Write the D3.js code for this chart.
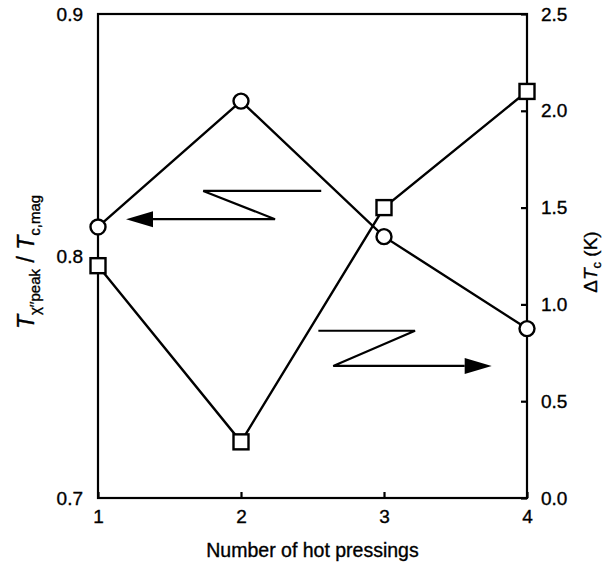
<!DOCTYPE html>
<html>
<head>
<meta charset="utf-8">
<script src="https://cdn.jsdelivr.net/npm/d3@7"></script>
<style>
  body { margin: 0; background: #fff; }
  text { font-family: "Liberation Sans", Arial, Helvetica, sans-serif; fill: #000; stroke: #000; stroke-width: 0.35px; }
</style>
</head>
<body>
<div id="chart"></div>
<script>
// data
const pressings = [1, 2, 3, 4];
const tRatio = [0.812, 0.864, 0.808, 0.770];   // circles, left axis
const deltaTc = [1.20, 0.29, 1.50, 2.10];      // squares, right axis
const xTicks = [1, 2, 3, 4];
const leftTicks = [0.7, 0.8, 0.9];
const rightTicks = [0.0, 0.5, 1.0, 1.5, 2.0, 2.5];

// z-shaped arrows (x in pressings, y in axis units of the series they point to)
const arrowLeft = [[2.561, 0.8269], [1.736, 0.8269], [2.238, 0.8152], [1.196, 0.8152]];
const arrowRight = [[2.541, 0.864], [3.217, 0.864], [2.645, 0.682], [3.753, 0.682]];

const W = 610, H = 568;
const frame = {left: 98, right: 527, top: 14, bottom: 498};

const svg = d3.select('#chart').append('svg')
  .attr('width', W).attr('height', H);

const x = d3.scaleLinear().domain([1, 4]).range([frame.left, frame.right]);
const yL = d3.scaleLinear().domain([0.7, 0.9]).range([frame.bottom, frame.top]);
const yR = d3.scaleLinear().domain([0, 2.5]).range([frame.bottom, frame.top]);

// axes
const gx = svg.append('g')
  .attr('transform', `translate(0,${frame.bottom})`)
  .call(d3.axisBottom(x).tickValues(xTicks).tickFormat(d3.format('d'))
    .tickSizeInner(-6).tickSizeOuter(0).tickPadding(12));
const gl = svg.append('g')
  .attr('transform', `translate(${frame.left},0)`)
  .call(d3.axisLeft(yL).tickValues(leftTicks).tickFormat(d3.format('.1f'))
    .tickSize(0).tickPadding(15));
const gr = svg.append('g')
  .attr('transform', `translate(${frame.right},0)`)
  .call(d3.axisRight(yR).tickValues(rightTicks).tickFormat(d3.format('.1f'))
    .tickSizeInner(-6).tickSizeOuter(0).tickPadding(14));

[gx, gl, gr].forEach(g => {
  g.select('.domain').remove();
  g.selectAll('line').attr('stroke', '#000').attr('stroke-width', 2.2);
  g.selectAll('text').attr('font-size', 19).attr('font-family', '"Liberation Sans", Arial, sans-serif');
});

svg.append('rect')
  .attr('x', frame.left).attr('y', frame.top)
  .attr('width', frame.right - frame.left).attr('height', frame.bottom - frame.top)
  .attr('fill', 'none').attr('stroke', '#000').attr('stroke-width', 2.2);

// axis titles
svg.append('text')
  .attr('x', (frame.left + frame.right) / 2).attr('y', 557)
  .attr('text-anchor', 'middle').attr('font-size', 19.5)
  .text('Number of hot pressings');

const lt = svg.append('text')
  .attr('transform', 'translate(34,262) rotate(-90)')
  .attr('text-anchor', 'middle').attr('font-size', 23);
lt.append('tspan').attr('font-style', 'italic').text('T');
lt.append('tspan').attr('font-size', 15).attr('dy', 6).text('χ′′peak');
lt.append('tspan').attr('dy', -6).text(' / ');
lt.append('tspan').attr('font-style', 'italic').text('T');
lt.append('tspan').attr('font-size', 15).attr('dy', 6).text('c,mag');

const rt = svg.append('text')
  .attr('transform', 'translate(597,262) rotate(-90)')
  .attr('text-anchor', 'middle').attr('font-size', 19);
rt.append('tspan').text('Δ');
rt.append('tspan').attr('font-style', 'italic').text('T');
rt.append('tspan').attr('font-size', 13).attr('dy', 4).text('c');
rt.append('tspan').attr('dy', -4).text(' (K)');

// lines
const lineL = d3.line().x((d, i) => x(pressings[i])).y(d => yL(d));
const lineR = d3.line().x((d, i) => x(pressings[i])).y(d => yR(d));

svg.append('path').datum(tRatio).attr('d', lineL)
  .attr('fill', 'none').attr('stroke', '#000').attr('stroke-width', 2.4);
svg.append('path').datum(deltaTc).attr('d', lineR)
  .attr('fill', 'none').attr('stroke', '#000').attr('stroke-width', 2.4);

// markers
svg.append('g').selectAll('circle')
  .data(tRatio).enter().append('circle')
  .attr('cx', (d, i) => x(pressings[i])).attr('cy', d => yL(d))
  .attr('r', 7.5)
  .attr('fill', '#fff').attr('stroke', '#000').attr('stroke-width', 2.4);

const sq = 15;
svg.append('g').selectAll('rect')
  .data(deltaTc).enter().append('rect')
  .attr('x', (d, i) => x(pressings[i]) - sq / 2).attr('y', d => yR(d) - sq / 2)
  .attr('width', sq).attr('height', sq)
  .attr('fill', '#fff').attr('stroke', '#000').attr('stroke-width', 2.4);

// z arrows
function drawArrow(pts, ys) {
  const p = pts.map(d => [x(d[0]), ys(d[1])]);
  const tip = p[p.length - 1];
  const prev = p[p.length - 2];
  const dir = Math.sign(tip[0] - prev[0]);
  const headLen = 27, half = 8;
  const base = tip[0] - dir * headLen;
  const shaft = p.slice(0, -1).concat([[base, tip[1]]]);
  svg.append('path').attr('d', d3.line()(shaft))
    .attr('fill', 'none').attr('stroke', '#000').attr('stroke-width', 2.2);
  svg.append('path')
    .attr('d', d3.line()([[base, tip[1] - half], tip, [base, tip[1] + half]]) + 'Z')
    .attr('fill', '#000');
}
drawArrow(arrowLeft, yL);
drawArrow(arrowRight, yR);
</script>
</body>
</html>
